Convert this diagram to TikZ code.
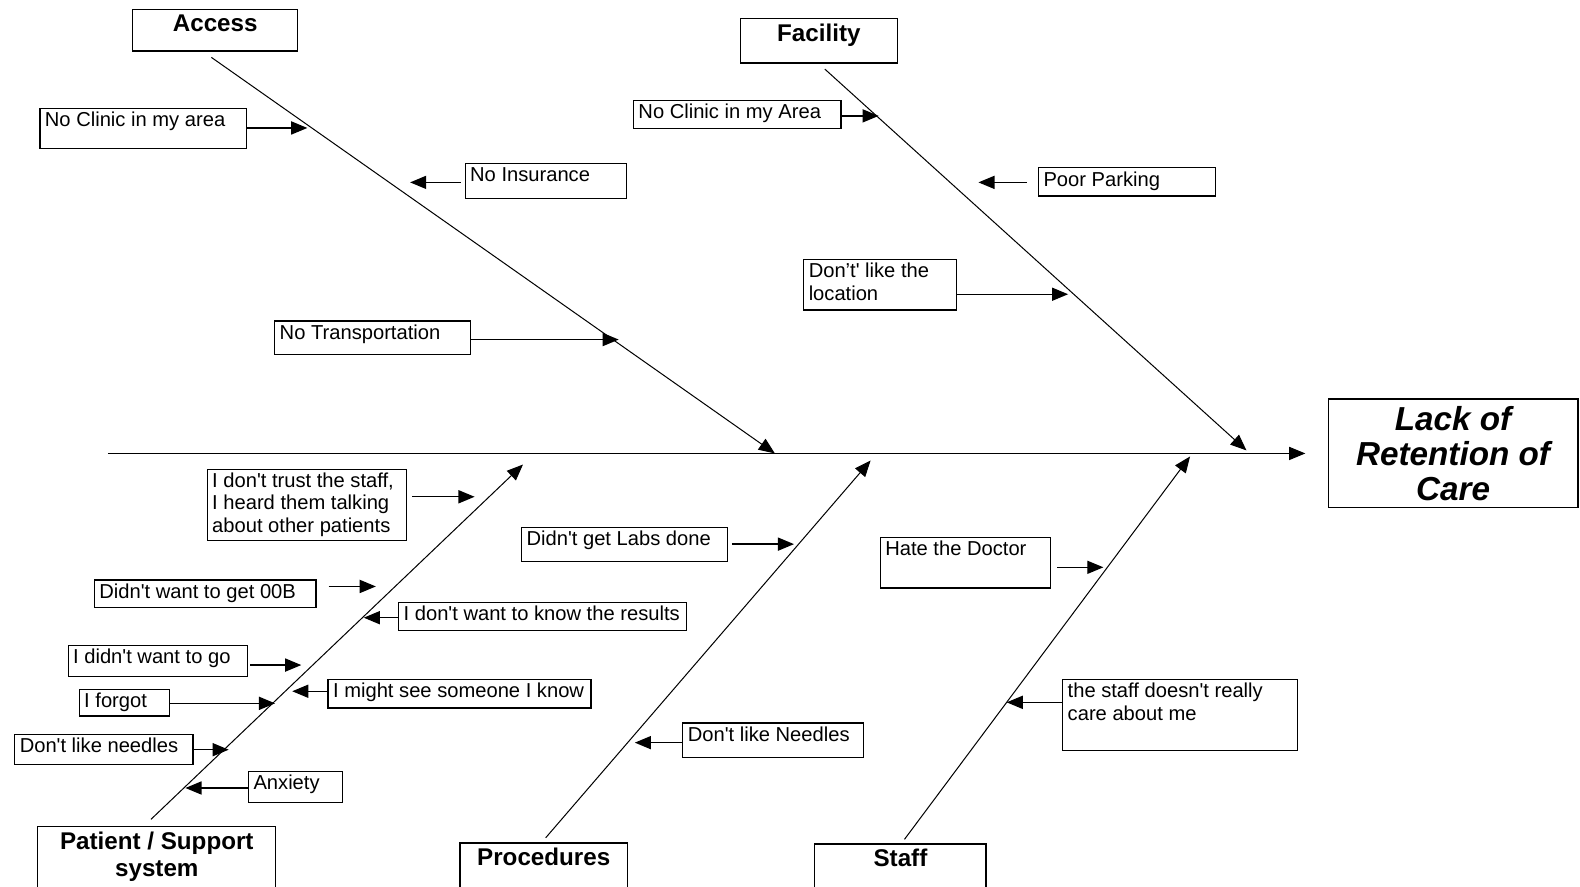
\documentclass[tikz,border=0pt]{standalone}
\usepackage{fontspec}
\setmainfont{Liberation Sans}[Ligatures=TeXOff]
\usetikzlibrary{arrows.meta}

\tikzset{
  headtip/.style={-{Triangle[length=16pt,width=13pt]}},
  bone/.style={line width=1pt, headtip},
  causearrow/.style={line width=1.3pt, headtip},
  causebox/.style={draw, line width=1.2pt, anchor=north west, inner sep=0pt},
  causetext/.style={anchor=north west, inner xsep=5pt, inner ysep=3.5pt, align=left,
    font=\fontsize{20}{22.5}\selectfont},
  headbox/.style={draw, line width=1.2pt, anchor=north west, inner sep=0pt},
  headtext/.style={anchor=north, inner sep=5pt, align=center,
    font=\fontsize{24}{27}\selectfont\bfseries},
}

\begin{document}
\begin{tikzpicture}[x=1pt, y=-1pt]
    \useasboundingbox (0,0) rectangle (1568,880);
    \clip (0,0) rectangle (1568,880);

    % effect and categories
    \node[draw, line width=1.2pt, minimum width=248pt, minimum height=108pt, align=center,
          font=\fontsize{33}{35}\selectfont\bfseries\itshape] (effect) at (1442,450) {Lack of\\Retention of\\Care};
    \begin{scope}[every node/.style={headbox}]
        \node[minimum width=164pt, minimum height=41pt, label={[headtext]north:Access}] (access) at (131,9) {};
        \node[minimum width=156pt, minimum height=44pt, label={[headtext]north:Facility}] (facility) at (734,18) {};
        \node[minimum width=236pt, minimum height=70pt, label={[headtext]north:{Patient / Support\\system}}] (patient) at (37,820) {};
        \node[minimum width=166pt, minimum height=54pt, label={[headtext]north:Procedures}] (procs) at (456,836) {};
        \node[minimum width=170pt, minimum height=53pt, label={[headtext]north:Staff}] (staff) at (808,837) {};
    \end{scope}

    % causes
    \begin{scope}[every node/.style={causebox}]
        \node[minimum width=205pt, minimum height=40pt, label={[causetext]north west:No Clinic in my area}] (clinic) at (39,107) {};
        \node[minimum width=160pt, minimum height=34pt, label={[causetext]north west:No Insurance}] (insurance) at (461,162) {};
        \node[minimum width=194pt, minimum height=33pt, label={[causetext]north west:No Transportation}] (transport) at (272,318) {};
        \node[minimum width=206pt, minimum height=28pt, label={[causetext]north west:No Clinic in my Area}] (clinicarea) at (628,99) {};
        \node[minimum width=176pt, minimum height=28pt, label={[causetext]north west:Poor Parking}] (parking) at (1030,166) {};
        \node[minimum width=152pt, minimum height=50pt, label={[causetext]north west:{Don’t' like the\\location}}] (location) at (797,257) {};
        \node[minimum width=198pt, minimum height=71pt, label={[causetext]north west:{I don't trust the staff,\\I heard them talking\\about other patients}}] (trust) at (205,465) {};
        \node[minimum width=220pt, minimum height=27pt, label={[causetext]north west:Didn't want to get 00B}] (oob) at (93,575) {};
        \node[minimum width=286pt, minimum height=28pt, label={[causetext]north west:I don't want to know the results}] (results) at (395,597) {};
        \node[minimum width=178pt, minimum height=31pt, label={[causetext]north west:I didn't want to go}] (nogo) at (67,640) {};
        \node[minimum width=261pt, minimum height=28pt, label={[causetext]north west:I might see someone I know}] (someone) at (325,674) {};
        \node[minimum width=90pt, minimum height=26pt, label={[causetext]north west:I forgot}] (forgot) at (78,684) {};
        \node[minimum width=177pt, minimum height=30pt, label={[causetext]north west:Don't like needles}] (needles) at (14,728) {};
        \node[minimum width=93pt, minimum height=31pt, label={[causetext]north west:Anxiety}] (anxiety) at (246,765) {};
        \node[minimum width=204pt, minimum height=34pt, label={[causetext]north west:Didn't get Labs done}] (labs) at (517,523) {};
        \node[minimum width=179pt, minimum height=34pt, label={[causetext]north west:Don't like Needles}] (needlestwo) at (677,717) {};
        \node[minimum width=169pt, minimum height=50pt, label={[causetext]north west:Hate the Doctor}] (doctor) at (873,533) {};
        \node[minimum width=233pt, minimum height=70pt, label={[causetext]north west:{the staff doesn't really\\care about me}}] (uncaring) at (1054,674) {};
    \end{scope}

    \coordinate (tail) at (107,450);
    \coordinate (accessend) at (769,450);
    \coordinate (facilityend) at (1237,447);
    \coordinate (patientend) at (519,461);
    \coordinate (procsend) at (864,457);
    \coordinate (staffend) at (1181,453);

    \coordinate (t1) at (305,127);
    \coordinate (t2) at (407,181);
    \coordinate (t3) at (614,337);
    \coordinate (t4) at (872,115);
    \coordinate (t5) at (971,181);
    \coordinate (t6) at (1060,292);
    \coordinate (t7) at (471,493);
    \coordinate (t8) at (373,582);
    \coordinate (t9) at (361,613);
    \coordinate (t10) at (299,660);
    \coordinate (t11) at (290,686);
    \coordinate (t12) at (273,698);
    \coordinate (t13) at (227,744);
    \coordinate (t14) at (184,782);
    \coordinate (t15) at (788,540);
    \coordinate (t16) at (630,737);
    \coordinate (t17) at (1095,563);
    \coordinate (t18) at (999,697);

    % spine and bones
    \begin{scope}[every path/.style={bone}]
        \draw[shorten >=22pt] (tail) -- (tail -| effect.west);
        \draw[shorten <=10pt] ([xshift=-12pt]access.south) -- (accessend);
        \draw[shorten <=8pt] (facility.south) -- (facilityend);
        \draw[shorten <=10pt] ([xshift=-13pt]patient.north) -- (patientend);
        \draw[shorten <=6pt] ([xshift=-2pt]procs.north) -- (procsend);
        \draw[shorten <=5pt] ([xshift=1pt]staff.north) -- (staffend);
    \end{scope}

    \begin{scope}[every path/.style={causearrow}]
        \draw (clinic.east |- t1) -- (t1);
        \draw[shorten <=4pt] (insurance.west |- t2) -- (t2);
        \draw (transport.east |- t3) -- (t3);
        \draw (clinicarea.east |- t4) -- (t4);
        \draw[shorten <=11pt] (parking.west |- t5) -- (t5);
        \draw (location.east |- t6) -- (t6);
        \draw[shorten <=5pt] (trust.east |- t7) -- (t7);
        \draw[shorten <=12pt] (oob.east |- t8) -- (t8);
        \draw (results.west |- t9) -- (t9);
        \draw[shorten <=2pt] (nogo.east |- t10) -- (t10);
        \draw (someone.west |- t11) -- (t11);
        \draw (forgot.east |- t12) -- (t12);
        \draw (needles.east |- t13) -- (t13);
        \draw (anxiety.west |- t14) -- (t14);
        \draw[shorten <=4pt] (labs.east |- t15) -- (t15);
        \draw (needlestwo.west |- t16) -- (t16);
        \draw[shorten <=6pt] (doctor.east |- t17) -- (t17);
        \draw (uncaring.west |- t18) -- (t18);
    \end{scope}
\end{tikzpicture}
\end{document}
